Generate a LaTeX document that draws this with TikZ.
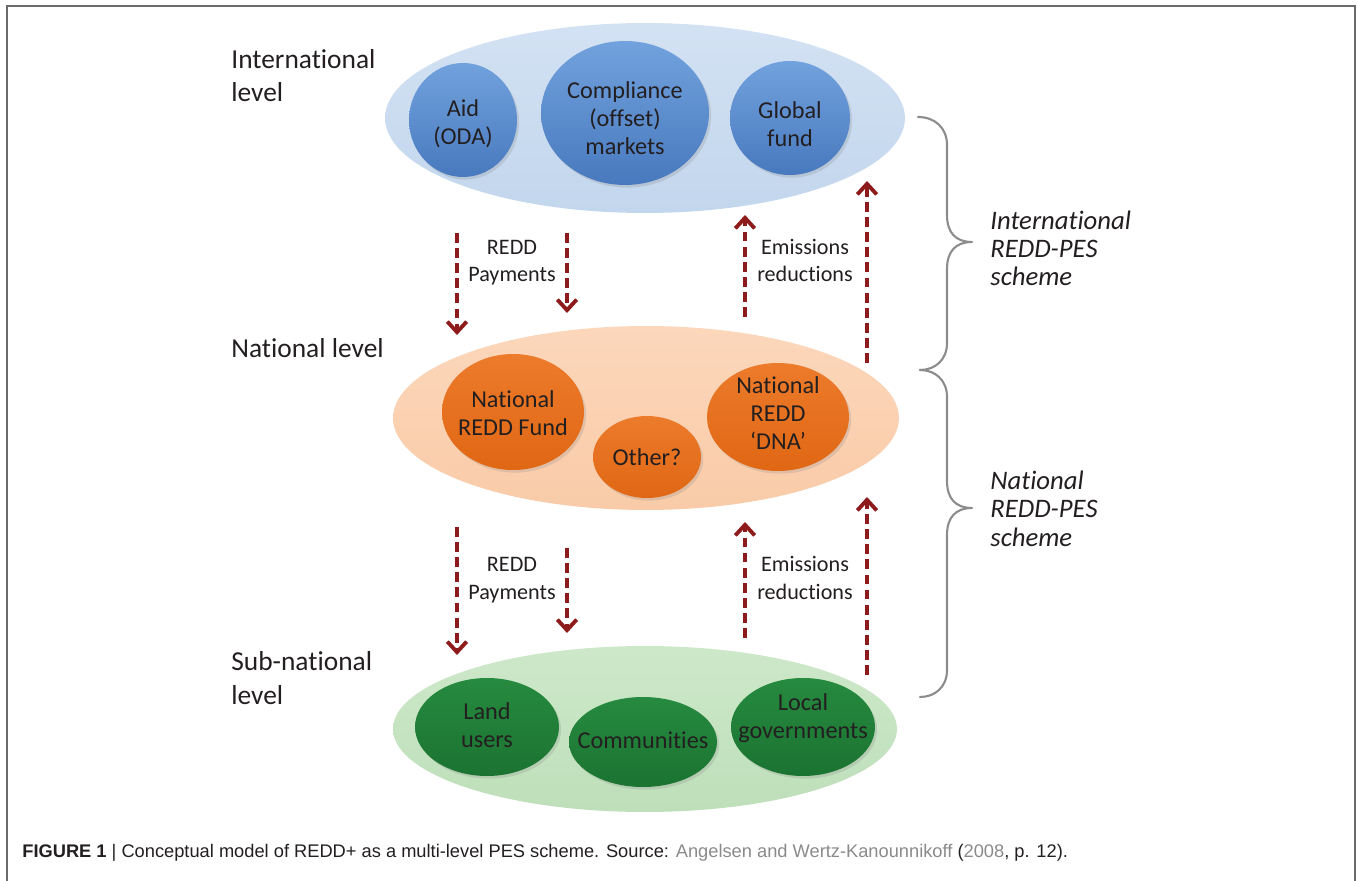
\documentclass[tikz,border=0pt]{standalone}
\usepackage{fontspec}
\setmainfont{Carlito}[Ligatures=NoCommon]
\newfontfamily\capfont{Liberation Sans}
\usetikzlibrary{shapes.geometric,arrows.meta,shadows}
\definecolor{ink}{HTML}{231F20}
\definecolor{framegray}{HTML}{6A6A6A}
\definecolor{bracegray}{HTML}{8C8C8C}
\definecolor{flowred}{HTML}{8E1B1B}
\definecolor{bigblueT}{HTML}{D3E2F3}
\definecolor{bigblueB}{HTML}{C2D6ED}
\definecolor{blueT}{HTML}{72A2DD}
\definecolor{blueB}{HTML}{4879BE}
\definecolor{bigoraT}{HTML}{FCD7BB}
\definecolor{bigoraB}{HTML}{F9CBA8}
\definecolor{oraT}{HTML}{EC7B2B}
\definecolor{oraB}{HTML}{E06714}
\definecolor{biggrnT}{HTML}{CDE8C9}
\definecolor{biggrnB}{HTML}{BEDFBA}
\definecolor{grnT}{HTML}{268A3F}
\definecolor{grnB}{HTML}{1B7331}
\definecolor{citegray}{HTML}{8A8A8A}
\begin{document}
\begin{tikzpicture}[x=0.02cm,y=-0.02cm,
  bigell/.style={ellipse,inner sep=0pt},
  blob/.style={ellipse,inner sep=0pt,
    drop shadow={opacity=0.22,shadow xshift=1.2pt,shadow yshift=-1.5pt}},
  blobtext/.style={inner sep=0pt,align=center,text=ink,
    font=\fontsize{13.8}{16}\selectfont},
  bluebig/.style={bigell,top color=bigblueT,bottom color=bigblueB},
  orabig/.style={bigell,top color=bigoraT,bottom color=bigoraB},
  grnbig/.style={bigell,top color=biggrnT,bottom color=biggrnB},
  blueblob/.style={blob,top color=blueT,bottom color=blueB},
  orablob/.style={blob,top color=oraT,bottom color=oraB},
  grnblob/.style={blob,top color=grnT,bottom color=grnB},
  levellabel/.style={anchor=base west,align=left,inner sep=0pt,text=ink,
    font=\fontsize{15.6}{19.3}\selectfont},
  flowlabel/.style={anchor=base,align=center,inner sep=0pt,text=ink,
    font=\fontsize{12.6}{15.4}\selectfont},
  schemelabel/.style={anchor=base west,align=left,inner sep=0pt,text=ink,
    font=\fontsize{15.2}{16.2}\selectfont\itshape},
  flow/.style={draw=flowred,line width=2pt,dash pattern=on 5.6pt off 3pt,
    -{Straight Barb[length=6pt,width=11pt,line width=2.2pt]}},
  bracestyle/.style={draw=bracegray,line width=1.2pt,line cap=round,line join=round}
]
\useasboundingbox (0,0) rectangle (1358,881);

% frame
\draw[framegray,line width=1.2pt] (7,881) -- (7,6) -- (1355,6) -- (1355,881);

% big ellipses
\node[bluebig,minimum width=10.4cm,minimum height=3.8cm] (intl) at (645,118) {};
\node[orabig,minimum width=10.12cm,minimum height=3.68cm] (natl) at (646,418) {};
\node[grnbig,minimum width=10.08cm,minimum height=3.32cm] (subn) at (645,729) {};

% international blobs
\node[blueblob,minimum width=2.16cm,minimum height=2.28cm] (aid) at (463,120) {};
\node[blobtext] (aid-t) at (463,124) {Aid\\(ODA)};
\node[blueblob,minimum width=3.36cm,minimum height=2.88cm] (comp) at (625,113) {};
\node[blobtext] (comp-t) at (625,118) {Compliance\\(offset)\\markets};
\node[blueblob,minimum width=2.4cm,minimum height=2.28cm] (glob) at (790,118) {};
\node[blobtext] (glob-t) at (790,124) {Global\\fund};

% national blobs
\node[orablob,minimum width=2.84cm,minimum height=2.32cm] (nrf) at (513,412) {};
\node[blobtext] (nrf-t) at (513,413) {National\\REDD Fund};
\node[orablob,minimum width=2.16cm,minimum height=1.64cm] (oth) at (647,457) {};
\node[blobtext] (oth-t) at (oth.center) {Other?};
\node[orablob,minimum width=2.84cm,minimum height=2.16cm] (dna) at (778,417) {};
\node[blobtext] (dna-t) at (778,413) {National\\REDD\\‘DNA’};

% sub-national blobs
\node[grnblob,minimum width=2.88cm,minimum height=1.96cm] (land) at (487,727) {};
\node[blobtext] (land-t) at (487,725) {Land\\users};
\node[grnblob,minimum width=2.96cm,minimum height=1.8cm] (comm) at (643,742) {};
\node[blobtext] (comm-t) at (643,740) {Communities};
\node[grnblob,minimum width=2.88cm,minimum height=1.96cm] (locg) at (803,727) {};
\node[blobtext] (locg-t) at (803,718) {Local\\governments};

% level labels
\node[levellabel] (lintl) at (231,102) {International\\level};
\node[levellabel] (lnatl) at (231,358) {National level};
\node[levellabel] (lsubn) at (231,704) {Sub-national\\level};

% flow labels
\node[flowlabel] (pay1) at (512,282) {REDD\\Payments};
\node[flowlabel] (emi1) at (805,282) {Emissions\\reductions};
\node[flowlabel] (pay2) at (512,599) {REDD\\Payments};
\node[flowlabel] (emi2) at (805,599) {Emissions\\reductions};

% flow arrow ends
\coordinate (d1s) at (457,233); \coordinate (d1e) at (457,335);
\coordinate (d2s) at (567,233); \coordinate (d2e) at (567,313);
\coordinate (u1s) at (745,317); \coordinate (u1e) at (745,215);
\coordinate (u2s) at (867,363); \coordinate (u2e) at (867,181);
\coordinate (d3s) at (457,527); \coordinate (d3e) at (457,655);
\coordinate (d4s) at (567,548); \coordinate (d4e) at (567,633);
\coordinate (u3s) at (745,638); \coordinate (u3e) at (745,522);
\coordinate (u4s) at (867,675); \coordinate (u4e) at (867,497);

\draw[flow] (d1s) -- (d1e);
\draw[flow] (d2s) -- (d2e);
\draw[flow] (u1s) -- (u1e);
\draw[flow] (u2s) -- (u2e);
\draw[flow] (d3s) -- (d3e);
\draw[flow] (d4s) -- (d4e);
\draw[flow] (u3s) -- (u3e);
\draw[flow] (u4s) -- (u4e);

% braces
\draw[bracestyle] (918,117) .. controls (935,117) and (947,128) .. (947,145)
  -- (947,215) .. controls (947,232) and (955,242) .. (972,242)
  .. controls (955,242) and (947,252) .. (947,269)
  -- (947,343) .. controls (947,360) and (935,370) .. (920,370);
\draw[bracestyle] (920,370) .. controls (935,370) and (947,380) .. (947,397)
  -- (947,481) .. controls (947,498) and (955,508) .. (972,508)
  .. controls (955,508) and (947,518) .. (947,535)
  -- (947,670) .. controls (947,687) and (935,697) .. (920,697);

% scheme labels
\node[schemelabel] (sintl) at (990,286) {International\\REDD-PES\\scheme};
\node[schemelabel] (snatl) at (990,546) {National\\REDD-PES\\scheme};

% caption
\node[anchor=base west,inner sep=0pt,text=ink,font=\capfont\fontsize{10.4}{12}\selectfont] (cap) at (22,857)
  {\textbf{FIGURE 1} | Conceptual model of REDD+ as a multi-level PES scheme. Source: \textcolor{citegray}{Angelsen and Wertz-Kanounnikoff} (\textcolor{citegray}{2008}, p. 12).};
\end{tikzpicture}
\end{document}
